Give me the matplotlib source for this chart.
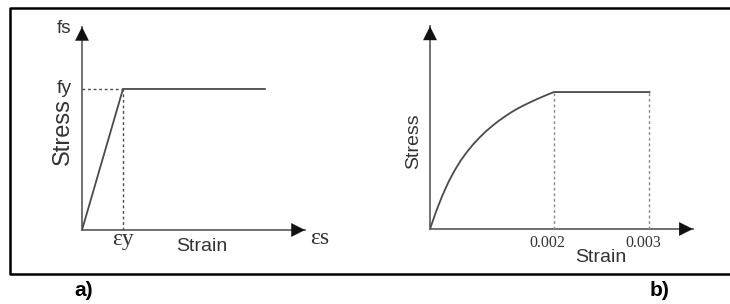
import numpy as np
import matplotlib.pyplot as plt

# panel a) elastic - perfectly plastic steel (schematic units: eps_y = 1, fy = 1)
steel_strain = [0.0, 1.0, 4.46]
steel_stress = [0.0, 1.0, 1.0]
eps_y = 1.0
f_y = 1.0

# panel b) concrete curve (schematic units: 0.002 -> 1)
conc_strain = [0.0, 0.05, 0.10, 0.15, 0.20, 0.25, 0.30, 0.35, 0.40, 0.45, 0.50,
               0.55, 0.60, 0.65, 0.70, 0.75, 0.80, 0.85, 0.90, 0.95, 1.0, 1.77]
conc_stress = [0.0, 0.13, 0.245, 0.345, 0.43, 0.503, 0.565, 0.62, 0.668, 0.712, 0.751,
               0.787, 0.819, 0.849, 0.876, 0.900, 0.922, 0.943, 0.963, 0.982, 1.0, 1.0]
strain_marks = [1.0, 1.77]
strain_labels = ['0.002', '0.003']

W, H = 730, 304
fig = plt.figure(figsize=(W / 100, H / 100), dpi=100)

def px_axes(x0, yb, x1, yt):
    return fig.add_axes([x0 / W, 1 - yb / H, (x1 - x0) / W, (yb - yt) / H])

# outer frame
bg = fig.add_axes([0, 0, 1, 1])
bg.set_xlim(0, W)
bg.set_ylim(H, 0)
bg.axis('off')
bg.plot([W, 10, 10, W], [8, 8, 274, 274], color='black', lw=1.8)

line_c = '#4a4a4a'
axis_c = '#666666'
sans = 'Liberation Sans'
serif = 'Liberation Serif'

def draw_axes(ax, xtip, ytip):
    ax.plot([0, xtip], [0, 0], color=axis_c, lw=1.3, clip_on=False)
    ax.plot([0, 0], [0, ytip], color=axis_c, lw=1.3, clip_on=False)
    hs = dict(arrowstyle='-|>,head_length=0.7,head_width=0.35', color='#111111',
              lw=0.1, mutation_scale=14, shrinkA=0, shrinkB=0)
    ax.annotate('', xy=(xtip, 0), xytext=(xtip * 0.97, 0), arrowprops=hs, annotation_clip=False)
    ax.annotate('', xy=(0, ytip), xytext=(0, ytip * 0.97), arrowprops=hs, annotation_clip=False)
    ax.axis('off')

# ---- a)
ax1 = px_axes(82, 230, 82 + 5.561 * 41, 20)
ax1.set_xlim(0, 5.561)
ax1.set_ylim(0, 1.489)
draw_axes(ax1, 5.44, 1.44)
ax1.plot(steel_strain, steel_stress, color=line_c, lw=1.3)
ax1.plot([0, eps_y], [f_y, f_y], color=line_c, lw=1, ls=(0, (2, 2)))
ax1.plot([eps_y, eps_y], [0, f_y], color=line_c, lw=1, ls=(0, (2, 2)))
ax1.text(-0.45, 1.43, 'fs', fontsize=13.5, family=sans, color='#333333', ha='center', va='center')
ax1.text(-0.25, f_y, 'fy', fontsize=14, family=sans, color='#333333', ha='right', va='center')
ax1.text(-0.47, 0.7, 'Stress', fontsize=17, family=sans, color='#333333', rotation=90,
         ha='center', va='center')
ax1.text(eps_y, -0.07, '\u03b5y', fontsize=17, family=serif, color='#333333', ha='center', va='center')
ax1.text(2.92, -0.115, 'Strain', fontsize=14, family=sans, color='#333333', ha='center', va='center')
ax1.text(5.8, -0.06, '\u03b5s', fontsize=17, family=serif, color='#333333', ha='center', va='center')

# ---- b)
ax2 = px_axes(430, 229, 430 + 2.195 * 124, 20)
ax2.set_xlim(0, 2.195)
ax2.set_ylim(0, 1.526)
draw_axes(ax2, 2.12, 1.48)
ax2.plot(conc_strain, conc_stress, color=line_c, lw=1.3)
for xm in strain_marks:
    ax2.plot([xm, xm], [0, 1.0], color='#888888', lw=1, ls=(0, (2, 2)))
for xm, lab in zip(strain_marks, strain_labels):
    ax2.text(xm - 0.05, -0.105, lab, fontsize=11.5, family=serif, color='#333333', ha='center', va='center')
ax2.text(1.38, -0.21, 'Strain', fontsize=14, family=sans, color='#333333', ha='center', va='center')
ax2.text(-0.135, 0.64, 'Stress', fontsize=14, family=sans, color='#333333', rotation=90,
         ha='center', va='center')

# panel letters
bg.text(84, 291, 'a)', fontsize=15, fontweight='bold', family=sans, ha='center', va='center')
bg.text(660, 290, 'b)', fontsize=15, fontweight='bold', family=sans, ha='center', va='center')

fig.savefig('out.png', dpi=100)
